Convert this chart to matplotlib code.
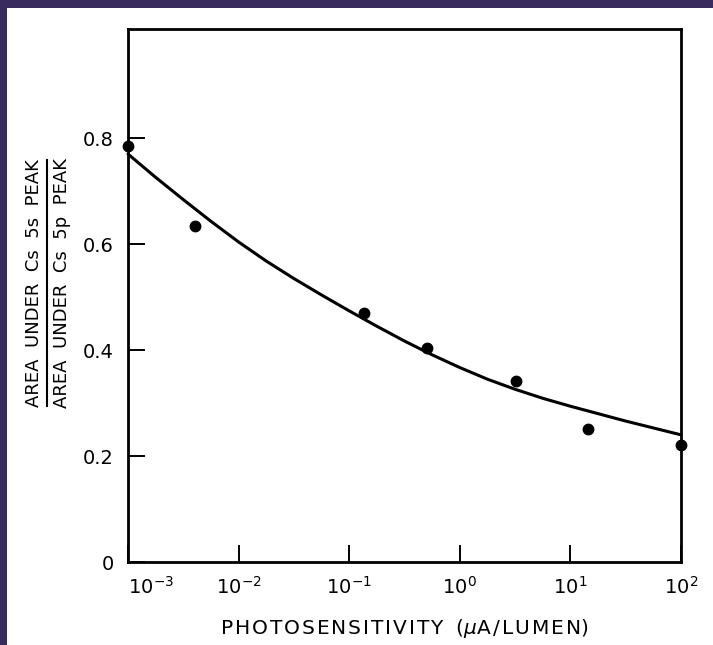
import numpy as np
import matplotlib
matplotlib.use("Agg")
import matplotlib.pyplot as plt
from matplotlib.patches import Rectangle
from matplotlib.lines import Line2D
from matplotlib.ticker import FixedLocator, NullLocator

# measured points: photosensitivity (uA/lumen) vs. 5s/5p peak-area ratio
sens = [1.0e-3, 4.0e-3, 0.135, 0.50, 3.2, 14.5, 100.0]
ratio = [0.785, 0.634, 0.470, 0.404, 0.342, 0.251, 0.221]

# hand-drawn trend curve, read every quarter decade
curve_dec = [-3.0, -2.75, -2.5, -2.25, -2.0, -1.75, -1.5, -1.25, -1.0, -0.75, -0.5,
             -0.25, 0.0, 0.25, 0.5, 0.75, 1.0, 1.25, 1.5, 1.75, 2.0]
curve_y = [0.770, 0.726, 0.684, 0.643, 0.604, 0.568, 0.535, 0.504, 0.474, 0.445, 0.417,
           0.391, 0.367, 0.345, 0.326, 0.309, 0.294, 0.280, 0.266, 0.253, 0.240]

y_ticks = [0, 0.2, 0.4, 0.6, 0.8]
y_labels = ["0", "0.2", "0.4", "0.6", "0.8"]
x_ticks = [1e-3, 1e-2, 1e-1, 1e0, 1e1, 1e2]
x_labels = [r"$10^{-3}$", r"$10^{-2}$", r"$10^{-1}$", r"$10^{0}$", r"$10^{1}$", r"$10^{2}$"]


def spaced(s, gap="\u200a"):
    # widen the lettering a little
    return gap.join(s)


W, H = 713, 645
fig = plt.figure(figsize=(W / 100, H / 100), dpi=100, facecolor="#3a2b5e")
# white page on the slide background
fig.patches.append(Rectangle((7 / W, 0), 1 - 7 / W, 1 - 8 / H, transform=fig.transFigure,
                             facecolor="white", edgecolor="none", zorder=-10))

ax = fig.add_axes([128 / W, (H - 562) / H, (681 - 128) / W, (562 - 29) / H])
ax.set_facecolor("white")

curve_x = np.power(10.0, curve_dec)
ax.plot(curve_x, curve_y, color="black", lw=2.2, solid_capstyle="round",
        solid_joinstyle="round", clip_on=False)
ax.plot(sens, ratio, "o", color="black", ms=7.5, clip_on=False, zorder=5)

ax.set_xscale("log")
ax.set_xlim(1e-3, 1e2)
ax.set_ylim(0, 1.006)

ax.xaxis.set_major_locator(FixedLocator(x_ticks))
ax.xaxis.set_minor_locator(NullLocator())
ax.set_xticklabels(x_labels)
ax.set_yticks(y_ticks)
ax.set_yticklabels(y_labels)
# first decade label sits to the right of the corner
ax.get_xticklabels()[0].set_horizontalalignment("left")

ax.tick_params(direction="in", length=12, width=1.4, labelsize=14, pad=10, colors="black")
ax.tick_params(axis="x", pad=10)
for s in ax.spines.values():
    s.set_linewidth(2.0)

ax.set_xlabel(spaced("PHOTOSENSITIVITY") + "  (" + r"$\mu$" + spaced("A/LUMEN") + ")",
              fontsize=14.5, labelpad=14)

# y label drawn as a fraction
fig.text(34 / W, 1 - 283 / H, "AREA  UNDER  Cs  5s  PEAK", rotation=90,
         ha="center", va="center", fontsize=13)
fig.text(62 / W, 1 - 283 / H, "AREA  UNDER  Cs  5p  PEAK", rotation=90,
         ha="center", va="center", fontsize=13)
fig.add_artist(Line2D([47 / W, 47 / W], [1 - 160 / H, 1 - 406 / H],
                      transform=fig.transFigure, color="black", lw=1.5))

fig.savefig("out.png", dpi=100, facecolor=fig.get_facecolor())
